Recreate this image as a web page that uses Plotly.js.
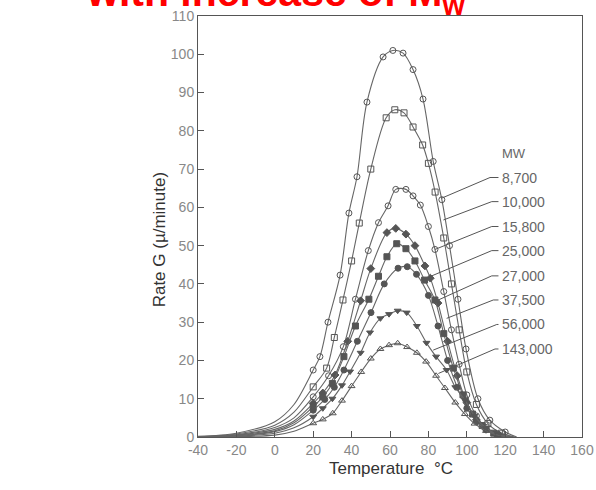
<!DOCTYPE html>
<html>
<head>
<meta charset="utf-8">
<script src="https://cdn.plot.ly/plotly-3.0.1.min.js"></script>
<style>html,body{margin:0;padding:0;background:#fff;}#chart{width:596px;height:490px;}</style>
</head>
<body>
<div id="chart"></div>
<script>
// Molecular weight series labels
const mwLabels = ["8,700", "10,000", "15,800", "25,000", "27,000", "37,500", "56,000", "143,000"];

// Temperature (°C) and growth rate G (µ/minute)
const t8700 = [-40,-20,0,10,20,23.5,27.7,34,38.6,42.8,48,56.4,61.5,66.8,72,77.2,82.5,87,91,95.4,99.6,105.8,112,120,126];
const g8700 = [0.2,1,4,8.5,17.5,21,30,42.3,58.5,68,87.5,99.3,101,100.3,96,88.3,72,62,50,36,23,10,4.4,1.3,0];

const t10000 = [-40,-20,0,10,20,27,31,35.5,40,44,50,58,62.5,67.3,72,77,80,83.5,88,92,96,100,105,111,118,125];
const g10000 = [0.1,0.8,3.1,6.5,13.1,18,26,35.8,46,55.9,70,83.4,85.5,84.7,81,76.3,71.5,64,52,40,28,17,8.5,3.5,1,0];

const t15800 = [-40,-20,0,10,20,28,35.7,42,48.7,54,59,63,68.3,72,75.8,80,83.4,88,92,96,100,105,110,116,124];
const g15800 = [0.1,0.6,2.5,5,10.5,16,23.6,36,48.7,56,60.4,64.7,64.7,63,60.6,55,49,38,28,19,11,5.5,2.5,0.8,0];

const t25000 = [-40,-20,0,10,20,25,31.4,38,44.7,50,58.4,63,68.3,73,78.2,81,85,90,95,100,105,110,117,124];
const g25000 = [0,0.5,2,4.2,8.8,11.5,16.2,25,35.6,44,53.4,54.5,53,50,44.7,41.5,35,25,16,9,4.5,2,0.5,0];

const t27000 = [-40,-20,0,10,20,25,30,36,42,49,54,58.4,63.5,68.3,73,78,83.4,88,93,98,103,108,114,122];
const g27000 = [0,0.4,1.6,3.7,7.9,10.5,14,21,29,36,42,47.1,50.5,49.2,46,41,35.8,27,18,11,6,3,1,0];

const t37500 = [-40,-20,0,10,20,26,31,36,43,50.1,57,64.2,69,73.8,80,85,90,95,100,105,110,116,122];
const g37500 = [0,0.3,1.4,3.2,7,9.8,13,17.5,25,32.5,40,44.1,44.5,42.5,37,29,20,13,7.5,4,2,0.6,0];

const t56000 = [-40,-20,0,10,20,25,30,35,39.2,44.7,49.6,55,59.5,64,68.7,74,79,84,89.5,94,99,104,110,116,122];
const g56000 = [0,0.2,1,2.4,5.3,7.5,10,13.5,17.1,22,27.3,31,32.1,33,32.5,29,24.6,21,17.5,13,9.7,5.5,2.3,0.7,0];

const t143000 = [-40,-20,0,10,20,25,30.2,35,40,45,50,55,59.5,64,68.9,74,78.8,84,88.6,94,99,104,110,116,122];
const g143000 = [0,0.1,0.5,1.5,3.6,4.6,6.2,9.5,13.3,17,20.5,23,24,24.5,23.5,22,19.7,16,12.8,9,6,3.5,1.6,0.5,0];

// Label positions (data units): label y, leader start x, leader end (x, y)
const labelY    = [67.8, 61.5, 55.0, 48.7, 42.1, 35.8, 29.4, 23.0];
const leadStartX = [112.1, 113, 113, 113, 113, 113.8, 115.6, 114.7];
const leadEndX  = [86.9, 87.8, 83.4, 80.8, 83.4, 89.5, 82.5, 85.2];
const leadEndY  = [62.4, 56.7, 49.0, 41.9, 35.4, 31.0, 22.7, 16.6];
const labelX = 117.3;

const xTicks = [-40,-20,0,20,40,60,80,100,120,140,160];
const yTicks = [0,10,20,30,40,50,60,70,80,90,100,110];

const seriesT = [t8700, t10000, t15800, t25000, t27000, t37500, t56000, t143000];
const seriesG = [g8700, g10000, g15800, g25000, g27000, g37500, g56000, g143000];
const symbols = ["circle-open","square-open","circle-open","diamond","square","circle","triangle-down","triangle-up-open"];

const FONT = "Liberation Sans, Arial, sans-serif";
const traces = [];
seriesT.forEach((t, i) => {
  const g = seriesG[i];
  traces.push({
    x: t, y: g, type: "scatter", mode: "lines",
    line: {shape: "spline", smoothing: 0.9, color: "#666", width: 1.1},
    hoverinfo: "skip", showlegend: false
  });
  const mx = [], my = [];
  t.forEach((v, k) => { if (v >= 20 && g[k] > 0.3) { mx.push(v); my.push(g[k]); } });
  traces.push({
    x: mx, y: my, type: "scatter", mode: "markers",
    marker: {symbol: symbols[i], size: 6, color: "#555", line: {color: "#555", width: 1}},
    name: mwLabels[i], showlegend: false
  });
});

const shapes = [];
const annotations = [];
mwLabels.forEach((lab, i) => {
  shapes.push({type: "line", xref: "x", yref: "y", x0: labelX - 0.8, y0: labelY[i], x1: leadStartX[i], y1: labelY[i], line: {color: "#555", width: 1}});
  shapes.push({type: "line", xref: "x", yref: "y", x0: leadStartX[i], y0: labelY[i], x1: leadEndX[i], y1: leadEndY[i], line: {color: "#555", width: 1}});
  annotations.push({x: labelX, y: labelY[i], xref: "x", yref: "y", text: lab, showarrow: false, xanchor: "left", yanchor: "middle", font: {family: FONT, size: 14, color: "#666"}});
});
annotations.push({x: labelX, y: 74, xref: "x", yref: "y", text: "MW", showarrow: false, xanchor: "left", yanchor: "middle", font: {family: FONT, size: 13, color: "#666"}});
annotations.push({x: 0.203, y: 1.05, xref: "paper", yref: "paper", text: "<b>with increase of M<sub>w</sub></b>", showarrow: false, xanchor: "center", yanchor: "middle", font: {family: FONT, size: 41, color: "#ff0000"}});
annotations.push({x: -0.098, y: 0.468, xref: "paper", yref: "paper", text: "Rate G (µ/minute)", textangle: -90, showarrow: false, xanchor: "center", yanchor: "middle", font: {family: FONT, size: 17, color: "#333"}});
annotations.push({x: 0.503, y: -0.075, xref: "paper", yref: "paper", text: "Temperature  °C", showarrow: false, xanchor: "center", yanchor: "middle", font: {family: FONT, size: 17, color: "#333"}});

const axisCommon = {
  showgrid: false, zeroline: false, showline: true, mirror: true,
  linecolor: "#555", linewidth: 1, ticks: "inside", ticklen: 6, tickcolor: "#555",
  tickfont: {family: FONT, size: 14, color: "#888"}
};

const layout = {
  width: 596, height: 490,
  margin: {l: 198, r: 14, t: 16, b: 53},
  paper_bgcolor: "#fff", plot_bgcolor: "#fff",
  xaxis: Object.assign({}, axisCommon, {range: [-40, 160], tickvals: xTicks, ticktext: xTicks.map(String)}),
  yaxis: Object.assign({}, axisCommon, {range: [0, 110], tickvals: yTicks, ticktext: yTicks.map(String)}),
  shapes: shapes, annotations: annotations, showlegend: false
};

Plotly.newPlot("chart", traces, layout, {displayModeBar: false, staticPlot: true});
</script>
</body>
</html>
